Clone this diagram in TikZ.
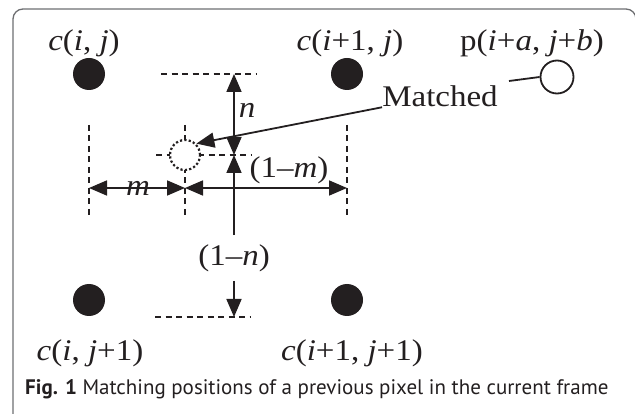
\documentclass[tikz,border=0pt]{standalone}
\usepackage{fontspec}
\setmainfont{Liberation Serif}
\newfontfamily\capfont{PT Sans}
\usepackage{graphicx}
\usetikzlibrary{arrows.meta, positioning}
\definecolor{cFrame}{HTML}{6D6E71}
\definecolor{cInk}  {HTML}{231F20}
\newcommand{\wide}[1]{\scalebox{1.1}[1]{#1}}

\begin{document}
\begin{tikzpicture}[x=1pt, y=-1pt,
    >={Triangle[length=18pt, width=15pt]},
    dot/.style={circle, fill=cInk, minimum size=32pt, inner sep=0pt},
    lbl/.style={font=\fontsize{30}{32}\selectfont, text=cInk, inner sep=0pt},
    guide/.style={draw=cInk, line width=1.4pt, dash pattern=on 6pt off 4.5pt},
    dimline/.style={draw=cInk, line width=1.8pt}]
  \useasboundingbox (0,0) rectangle (635,414);
  \draw[cFrame, line width=1.3pt, rounded corners=10pt] (13,9) rectangle (636,440);

  % dashed guides
  \foreach \x in {89,185,347}{
    \draw[guide] (\x,125) -- (\x,218);
  }
  \draw[guide] (161,74) -- (257,74);
  \draw[guide] (156,155) -- (252,155);
  \draw[guide] (155,317) -- (250,317);

  % grid pixels
  \foreach \name/\x/\y in {ij/89/74, ipj/347/74, ijp/89/300, ipjp/347/300}{
    \node[dot] (\name) at (\x,\y) {};
  }
  \node[lbl] (lij)   at (84,43.5)   {\wide{\textit{c}(\textit{i}, \textit{j})}};
  \node[lbl] (lipj)  at (350,43.5)  {\wide{\textit{c}(\textit{i}+1, \textit{j})}};
  \node[lbl] (lijp)  at (90,353.5)  {\wide{\textit{c}(\textit{i}, \textit{j}+1)}};
  \node[lbl] (lipjp) at (352,353.5) {\wide{\textit{c}(\textit{i}+1, \textit{j}+1)}};
  \node[lbl] (lp)    at (532,43.5)  {\wide{p(\textit{i}+\textit{a}, \textit{j}+\textit{b})}};

  % previous pixel and its match
  \node[circle, draw=cInk, fill=white, line width=1.8pt, minimum size=33pt,
        inner sep=0pt] (pnt) at (557,77) {};
  \coordinate (pTail) at (509,81);
  \draw[dimline] (pnt.west) -- (pTail);
  \node[circle, draw=cInk, fill=white, line width=2.2pt, minimum size=30pt,
        inner sep=0pt, dash pattern=on 2.2pt off 2.2pt] (dc) at (185,155) {};
  \node[lbl] (match) at (440,96.5) {\wide{Matched}};
  \draw[dimline, ->] (match.south west) -- (dc.45);

  % vertical offsets
  \coordinate (nTop) at (234,74);
  \coordinate (nMid) at (234,155);
  \coordinate (nBot) at (234,317);
  \draw[dimline, <->] (nTop) -- (nMid);
  \node[lbl] (nlab) at (247,110) {\wide{\textit{n}}};
  \node[lbl, inner ysep=9pt] (onen) at (234,258) {\wide{(1–\textit{n})}};
  \draw[dimline, ->] (onen) -- (nMid);
  \draw[dimline, ->] (onen) -- (nBot);

  % horizontal offsets
  \coordinate (mL) at (89,188);
  \coordinate (mC) at (185,188);
  \coordinate (mR) at (347,188);
  \draw[dimline, <->] (mL) -- (mC);
  \draw[dimline, <->] (mC) -- (mR);
  \node[lbl] (mlab) at (138,188) {\wide{\textit{m}}};
  \node[lbl] (onem) at (289,170) {\wide{(1–\textit{m})}};

  \node[font=\capfont\fontsize{21}{24}\selectfont, text=cInk, anchor=base west,
        inner sep=0pt] (cap) at (25,394)
        {\textbf{Fig. 1} Matching positions of a previous pixel in the current frame};
\end{tikzpicture}
\end{document}
